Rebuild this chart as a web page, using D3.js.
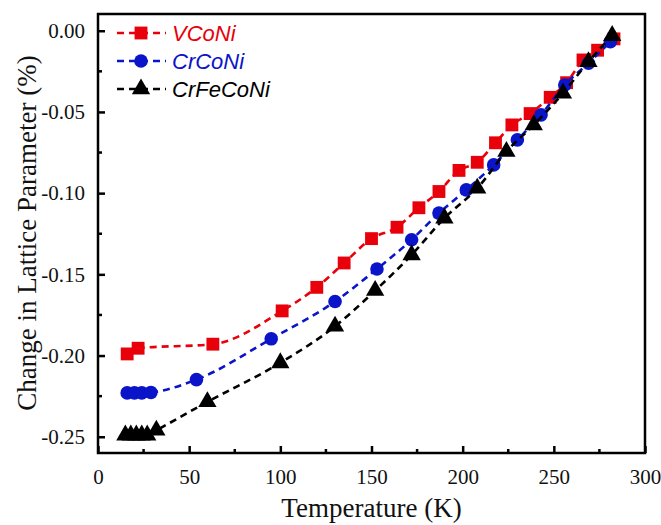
<!DOCTYPE html>
<html>
<head>
<meta charset="utf-8">
<script src="https://cdn.jsdelivr.net/npm/d3@7"></script>
<style>
  body { margin: 0; background: #fff; }
  svg { display: block; }
</style>
</head>
<body>
<div id="chart"></div>
<script>
// Data
var seriesNames = ["VCoNi", "CrCoNi", "CrFeCoNi"];

var tVCoNi = [16, 22, 63, 101, 120, 135, 150, 164, 176, 187, 198, 208, 218, 227, 237, 248, 257, 266, 274, 283];
var vVCoNi = [-0.199, -0.1955, -0.193, -0.1725, -0.158, -0.143, -0.128, -0.121, -0.109, -0.099, -0.086, -0.081, -0.069, -0.058, -0.051, -0.041, -0.032, -0.018, -0.012, -0.005];

var tCrCoNi = [16, 20, 24, 29, 54, 95, 130, 153, 172, 187, 202, 217, 230, 243, 256, 269, 281];
var vCrCoNi = [-0.223, -0.223, -0.223, -0.2227, -0.2148, -0.1897, -0.1667, -0.1467, -0.1287, -0.1123, -0.098, -0.0826, -0.0672, -0.0518, -0.0334, -0.020, -0.0068];

var tCrFeCoNi = [15, 18, 21, 24, 27, 32, 60, 100, 130, 152, 172, 190, 208, 224, 239, 255, 269, 282];
var vCrFeCoNi = [-0.249, -0.249, -0.249, -0.249, -0.249, -0.246, -0.2285, -0.2045, -0.182, -0.160, -0.138, -0.1154, -0.097, -0.0744, -0.058, -0.0385, -0.0191, -0.003];

var xTicks = [0, 50, 100, 150, 200, 250, 300];
var yTicks = [0, -0.05, -0.10, -0.15, -0.20, -0.25];

var W = 661, H = 525;
var margin = { left: 98, top: 14, right: 16, bottom: 72 };
var pw = W - margin.left - margin.right;
var ph = H - margin.top - margin.bottom;

var svg = d3.select("#chart").append("svg")
    .attr("width", W)
    .attr("height", H);

var g = svg.append("g")
    .attr("transform", "translate(" + margin.left + "," + margin.top + ")");

var x = d3.scaleLinear().domain([0, 300]).range([0, pw]);
var y = d3.scaleLinear().domain([-0.26, 0.0103]).range([ph, 0]);

var serif = "Liberation Serif, Times New Roman, serif";
var sans = "Liberation Sans, Arial, sans-serif";

// x axis with inward ticks
var xAxis = g.append("g")
    .attr("transform", "translate(0," + ph + ")")
    .call(d3.axisBottom(x).tickValues(xTicks).tickSizeInner(-7).tickSizeOuter(0).tickPadding(16));
xAxis.attr("font-family", serif).attr("font-size", 21);
xAxis.select(".domain").remove();
xAxis.selectAll("line").attr("stroke-width", 2.5);
xAxis.selectAll("text").attr("fill", "#111");

// minor x ticks
g.append("g").selectAll("line")
    .data(d3.range(25, 300, 50))
    .enter().append("line")
    .attr("x1", function(d) { return x(d); })
    .attr("x2", function(d) { return x(d); })
    .attr("y1", ph)
    .attr("y2", ph - 4)
    .attr("stroke", "#000")
    .attr("stroke-width", 2.5);

// y axis
var yAxis = g.append("g")
    .call(d3.axisLeft(y).tickValues(yTicks).tickSizeInner(-7).tickSizeOuter(0).tickPadding(13)
        .tickFormat(function(d) { return d3.format(".2f")(d).replace("\u2212", "-"); }));
yAxis.attr("font-family", serif).attr("font-size", 21);
yAxis.select(".domain").remove();
yAxis.selectAll("line").attr("stroke-width", 2.5);
yAxis.selectAll("text").attr("fill", "#111");

// minor y ticks
g.append("g").selectAll("line")
    .data([-0.025, -0.075, -0.125, -0.175, -0.225])
    .enter().append("line")
    .attr("x1", 0)
    .attr("x2", 4)
    .attr("y1", function(d) { return y(d); })
    .attr("y2", function(d) { return y(d); })
    .attr("stroke", "#000")
    .attr("stroke-width", 2.5);

// frame
g.append("rect")
    .attr("width", pw)
    .attr("height", ph)
    .attr("fill", "none")
    .attr("stroke", "#000")
    .attr("stroke-width", 2.5);

// axis titles
svg.append("text")
    .attr("x", margin.left + pw / 2)
    .attr("y", 517)
    .attr("text-anchor", "middle")
    .attr("font-family", serif)
    .attr("font-size", 27)
    .attr("fill", "#111")
    .text("Temperature (K)");

svg.append("text")
    .attr("transform", "translate(36," + 233 + ") rotate(-90)")
    .attr("text-anchor", "middle")
    .attr("font-family", serif)
    .attr("font-size", 27)
    .attr("fill", "#111")
    .text("Change in Lattice Parameter (%)");

// series
var colors = ["#e8000b", "#0a14c8", "#000000"];
var symbols = [d3.symbolSquare, d3.symbolCircle, d3.symbolTriangle];
var sizes = [165, 145, 145];
var allT = [tVCoNi, tCrCoNi, tCrFeCoNi];
var allV = [vVCoNi, vCrCoNi, vCrFeCoNi];

var line = d3.line()
    .x(function(d) { return x(d[0]); })
    .y(function(d) { return y(d[1]); })
    .curve(d3.curveMonotoneX);

seriesNames.forEach(function(name, i) {
    var pts = allT[i].map(function(t, j) { return [t, allV[i][j]]; });
    g.append("path")
        .datum(pts)
        .attr("d", line)
        .attr("fill", "none")
        .attr("stroke", colors[i])
        .attr("stroke-width", 2.6)
        .attr("stroke-dasharray", "7,5");
    g.append("g").selectAll("path")
        .data(pts)
        .enter().append("path")
        .attr("transform", function(d) { return "translate(" + x(d[0]) + "," + y(d[1]) + ")"; })
        .attr("d", d3.symbol().type(symbols[i]).size(sizes[i]))
        .attr("fill", colors[i]);
});

// legend
var legend = g.append("g").attr("transform", "translate(19,19)");
seriesNames.forEach(function(name, i) {
    var row = legend.append("g").attr("transform", "translate(0," + (i * 28) + ")");
    row.append("line")
        .attr("x1", 0).attr("x2", 49)
        .attr("y1", 0).attr("y2", 0)
        .attr("stroke", colors[i])
        .attr("stroke-width", 2.6)
        .attr("stroke-dasharray", "7,5");
    row.append("path")
        .attr("transform", "translate(24,0)")
        .attr("d", d3.symbol().type(symbols[i]).size(sizes[i]))
        .attr("fill", colors[i]);
    row.append("text")
        .attr("x", 55)
        .attr("y", 8)
        .attr("font-family", sans)
        .attr("font-style", "italic")
        .attr("font-size", 22)
        .attr("fill", colors[i])
        .text(name);
});
</script>
</body>
</html>
